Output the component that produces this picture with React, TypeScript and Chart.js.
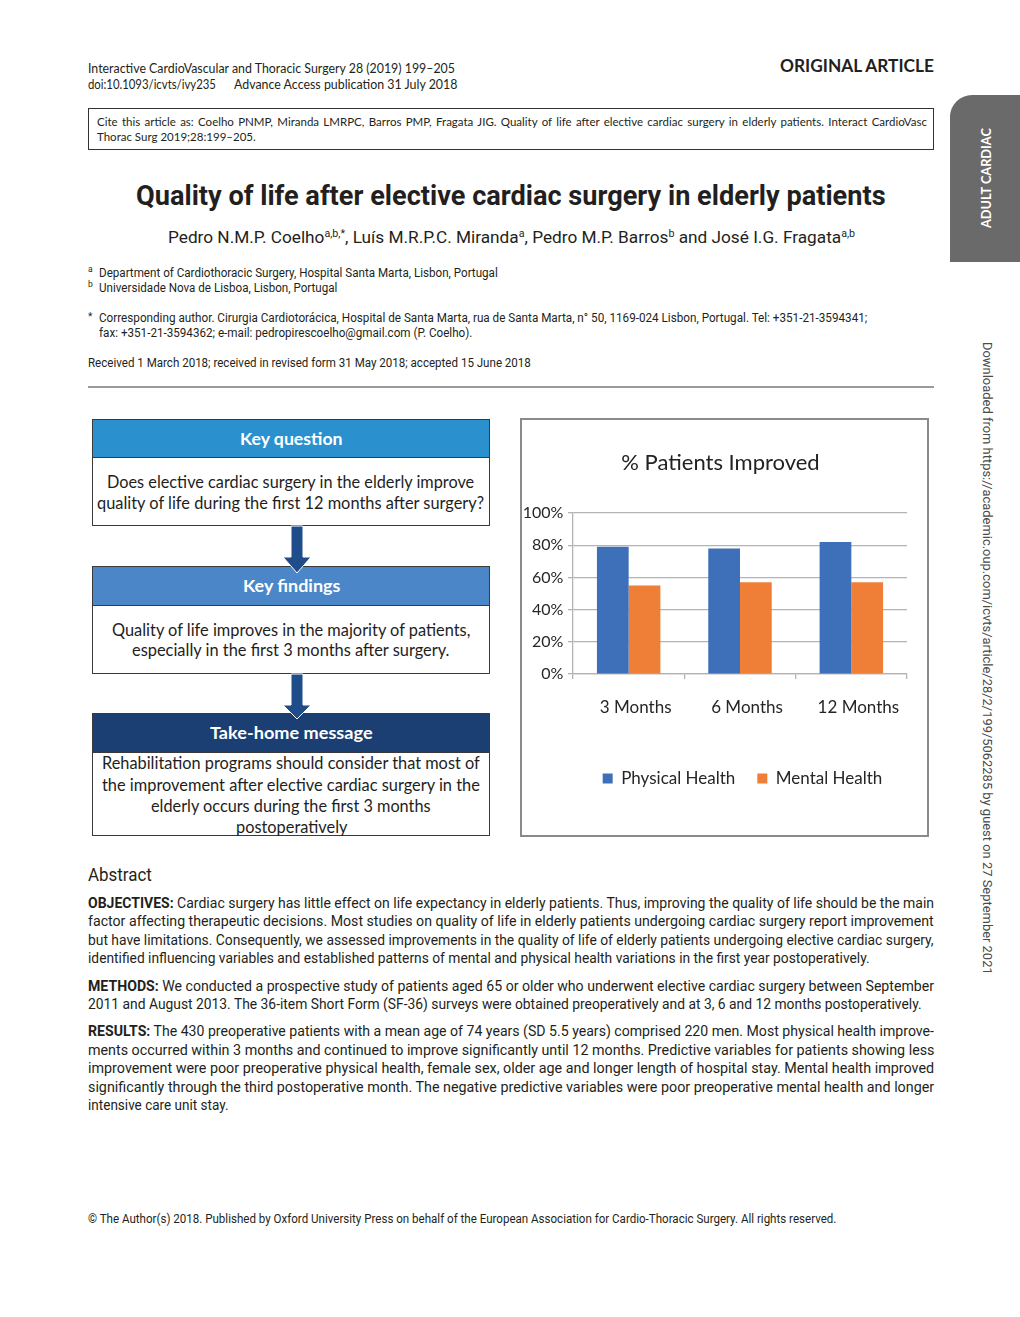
import React, { useEffect, useLayoutEffect, useRef } from 'react';
import { Chart, registerables } from 'chart.js';
Chart.register(...registerables);

// ---------- data ----------
const categories = ['3 Months', '6 Months', '12 Months'];
const seriesNames = ['Physical Health', 'Mental Health'];
const physicalHealth = [79, 78, 82];
const mentalHealth = [55, 57, 57];
const yTicks = [0, 20, 40, 60, 80, 100];
const chartTitle = '% Patients Improved';

const BODY = 'Roboto, "Liberation Sans", sans-serif';
const HDR = 'Lato, "Open Sans", sans-serif';
const CH = 'Lato, "Open Sans", sans-serif';
const INK = '#231f20';

type TP = {
  x: number; y: number; w?: number; mode?: 'fit' | 'j' | 'c';
  s: number; f?: string; b?: boolean; c?: string; children: any; st?: any;
};

function T({ x, y, w, mode, s, f, b, c, children, st }: TP) {
  const inner = useRef<HTMLSpanElement>(null);
  useLayoutEffect(() => {
    const i = inner.current;
    if (!i || !w) return;
    const nat = i.offsetWidth;
    if (mode === 'j' && nat <= w) {
      i.style.display = 'block';
      i.style.width = w + 'px';
      i.style.textAlign = 'justify';
      (i.style as any).textAlignLast = 'justify';
      i.style.whiteSpace = 'normal';
    } else if (mode === 'fit' || mode === 'j' || nat > w) {
      i.style.transform = `scaleX(${w / nat})`;
      i.style.transformOrigin = '0 0';
    }
  }, []);
  const style: any = {
    position: 'absolute',
    left: x,
    top: y - s * 0.56,
    fontSize: s,
    lineHeight: `${s * 1.2}px`,
    fontFamily: f || BODY,
    fontWeight: b ? 700 : 400,
    color: c || INK,
    whiteSpace: 'nowrap',
    ...(st || {}),
  };
  return (
    <div style={style}>
      <span ref={inner} style={{ display: 'inline-block' }}>{children}</span>
    </div>
  );
}

const Sup = ({ children }: any) => (
  <span style={{ fontSize: '0.62em', verticalAlign: '0.55em', lineHeight: 0 }}>{children}</span>
);

// nudges the title and legend boxes sideways to match the original placement
const shiftPlugin = {
  id: 'shiftBoxes',
  afterLayout(chart: any) {
    if (chart.legend) { chart.legend.left += 27; chart.legend.right += 27; }
    if (chart.titleBlock) { chart.titleBlock.left += 5; chart.titleBlock.right += 5; }
  },
};

function BarChart() {
  const ref = useRef<HTMLCanvasElement>(null);
  useEffect(() => {
    const GRID = '#b4b4b4';
    const TXT = '#262626';
    const chart = new Chart(ref.current!, {
      type: 'bar',
      data: {
        labels: categories,
        datasets: [
          { label: seriesNames[0], data: physicalHealth, backgroundColor: '#3d70b8', borderWidth: 0, categoryPercentage: 0.57, barPercentage: 1 },
          { label: seriesNames[1], data: mentalHealth, backgroundColor: '#ef7f37', borderWidth: 0, categoryPercentage: 0.57, barPercentage: 1 },
        ],
      },
      plugins: [shiftPlugin],
      options: {
        responsive: false,
        animation: false,
        devicePixelRatio: 1,
        layout: { padding: { top: 0, left: 2, right: 20, bottom: 38 } },
        plugins: {
          title: {
            display: true, text: chartTitle, color: '#222',
            font: { family: CH, size: 22, weight: 'normal' },
            padding: { top: 30, bottom: 36.6 },
          },
          legend: {
            position: 'bottom',
            labels: { boxWidth: 10, boxHeight: 10, padding: 22, color: TXT, font: { family: CH, size: 17 } },
          },
          tooltip: { enabled: false },
        },
        scales: {
          x: {
            grid: { display: true, drawOnChartArea: false, drawTicks: true, tickLength: 5, color: GRID, lineWidth: 1.3, offset: true },
            border: { display: true, color: GRID, width: 1.3 },
            ticks: { color: TXT, font: { family: CH, size: 17 }, padding: 18, labelOffset: 7 },
            afterFit: (s: any) => { s.height += 12.5; },
          },
          y: {
            min: 0, max: 100,
            afterBuildTicks: (s: any) => { s.ticks = yTicks.map((v) => ({ value: v })); },
            ticks: { color: TXT, font: { family: CH, size: 16 }, padding: 4.7, callback: (v: any) => v + '%' },
            grid: { color: GRID, lineWidth: 1.3, tickLength: 5 },
            border: { display: true, color: GRID, width: 1.3 },
            afterFit: (s: any) => { s.width = 49; },
          },
        },
      } as any,
    });
    return () => chart.destroy();
  }, []);
  return <canvas ref={ref} width={405} height={415} style={{ display: 'block', width: 405, height: 415 }} />;
}

function Arrow({ top, headTop, tip }: { top: number; headTop: number; tip: number }) {
  return (
    <svg style={{ position: 'absolute', left: 0, top: 0, overflow: 'visible' }} width={1} height={1}>
      <polygon
        points={`291,${top} 303,${top} 303,${headTop} 311,${headTop} 297,${tip} 283,${headTop} 291,${headTop}`}
        fill="#1f4d8a" stroke="#ffffff" strokeWidth={1}
      />
    </svg>
  );
}

function Box({ top, hh, bh, color, title, tw, lines }: any) {
  const L = 92, W = 398;
  return (
    <>
      <div style={{ position: 'absolute', left: L, top, width: W, height: hh + bh, boxSizing: 'border-box', border: '1.5px solid #3a3a3a', background: '#fff' }} />
      <div style={{ position: 'absolute', left: L, top, width: W, height: hh, boxSizing: 'border-box', border: '1.5px solid #3a3a3a', background: color }} />
      <T x={291 - tw / 2} y={top + hh / 2} w={tw} mode="fit" s={17} f={CH} b c="#ffffff">{title}</T>
      {lines.map((ln: any, i: number) => (
        <T key={i} x={ln[1]} y={ln[3]} w={ln[2]} mode="fit" s={16.5} f={CH} c="#1e1e1e">{ln[0]}</T>
      ))}
    </>
  );
}

export default function App() {
  const lineY = [903, 921.5, 940, 958.5, 986, 1004.5, 1031.5, 1050, 1068.5, 1087, 1105.5];
  return (
    <div style={{ position: 'absolute', left: 0, top: 0, width: 1020, height: 1317, background: '#fff', overflow: 'hidden' }}>
      {/* running header */}
      <T x={88} y={68} w={367} mode="fit" s={12.5} f={HDR}>Interactive CardioVascular and Thoracic Surgery 28 (2019) 199–205</T>
      <T x={88} y={84} w={128} mode="fit" s={12.5} f={HDR}>doi:10.1093/icvts/ivy235</T>
      <T x={234} y={84} w={223} mode="fit" s={12.5} f={HDR}>Advance Access publication 31 July 2018</T>
      <T x={780} y={66} w={154} mode="fit" s={16.5} f={HDR} b>ORIGINAL ARTICLE</T>

      {/* cite box */}
      <div style={{ position: 'absolute', left: 88, top: 108, width: 846, height: 42, boxSizing: 'border-box', border: '1px solid #333' }} />
      <T x={97} y={121} w={830} mode="j" s={11.5} f={HDR}>Cite this article as: Coelho PNMP, Miranda LMRPC, Barros PMP, Fragata JIG. Quality of life after elective cardiac surgery in elderly patients. Interact CardioVasc</T>
      <T x={97} y={136} s={11.5} f={HDR}>Thorac Surg 2019;28:199–205.</T>

      {/* side tab */}
      <div style={{ position: 'absolute', left: 950, top: 95, width: 70, height: 167, background: '#6a6a6a', borderTopLeftRadius: 22 }} />
      <div style={{ position: 'absolute', left: 979, top: 228, width: 0, height: 0, transform: 'rotate(-90deg)', transformOrigin: '0 0' }}>
        <T x={0} y={7} w={100} mode="fit" s={12.5} f={HDR} b c="#ffffff">ADULT CARDIAC</T>
      </div>
      <div style={{ position: 'absolute', left: 996, top: 342, width: 0, height: 0, transform: 'rotate(90deg)', transformOrigin: '0 0' }}>
        <T x={0} y={8} w={633} mode="fit" s={13.5} c="#4a4a4a">Downloaded from https://academic.oup.com/icvts/article/28/2/199/5062285 by guest on 27 September 2021</T>
      </div>

      {/* title & authors */}
      <T x={136} y={195} w={750} mode="fit" s={27} b>Quality of life after elective cardiac surgery in elderly patients</T>
      <T x={168} y={237} w={687} mode="fit" s={17}>
        Pedro N.M.P. Coelho<Sup>a,b,*</Sup>, Luís M.R.P.C. Miranda<Sup>a</Sup>, Pedro M.P. Barros<Sup>b</Sup> and José I.G. Fragata<Sup>a,b</Sup>
      </T>
      <T x={88} y={269} s={8.5}>a</T>
      <T x={99} y={272} w={399} mode="fit" s={12.5}>Department of Cardiothoracic Surgery, Hospital Santa Marta, Lisbon, Portugal</T>
      <T x={88} y={284} s={8.5}>b</T>
      <T x={99} y={287} w={238} mode="fit" s={12.5}>Universidade Nova de Lisboa, Lisbon, Portugal</T>
      <T x={88} y={317} s={10}>*</T>
      <T x={99} y={317} w={768} mode="fit" s={12.5}>Corresponding author. Cirurgia Cardiotorácica, Hospital de  Santa Marta, rua de Santa Marta, n° 50, 1169-024 Lisbon, Portugal. Tel: +351-21-3594341;</T>
      <T x={99} y={332} w={373} mode="fit" s={12.5}>fax: +351-21-3594362; e-mail: pedropirescoelho@gmail.com (P. Coelho).</T>
      <T x={88} y={362} w={443} mode="fit" s={12.5}>Received 1 March 2018; received in revised form 31 May 2018; accepted 15 June 2018</T>
      <div style={{ position: 'absolute', left: 88, top: 386, width: 846, height: 1.5, background: '#9a9a9a' }} />

      {/* graphical abstract: flow boxes */}
      <Box top={419} hh={39} bh={68} color="#2a91ce" title="Key question" tw={103}
        lines={[
          ['Does elective cardiac surgery in the elderly improve', 107, 367, 482.5],
          ['quality of life during the first 12 months after surgery?', 97, 387, 503.5],
        ]} />
      <Box top={566} hh={40} bh={68} color="#4a86c8" title="Key findings" tw={97}
        lines={[
          ['Quality of life improves in the majority of patients,', 112, 358, 630],
          ['especially in the first 3 months after surgery.', 132, 317, 650.5],
        ]} />
      <Box top={713} hh={40} bh={83} color="#1c3f73" title="Take-home message" tw={163}
        lines={[
          ['Rehabilitation programs should consider that most of', 102, 378, 763.5],
          ['the improvement after elective cardiac surgery in the', 102, 378, 785],
          ['elderly occurs during the first 3 months', 151, 280, 806.5],
          ['postoperatively', 236, 111, 827],
        ]} />
      <Arrow top={526} headTop={557} tip={573} />
      <Arrow top={674} headTop={705} tip={719} />

      {/* chart panel */}
      <div style={{ position: 'absolute', left: 520, top: 418, width: 409, height: 419, boxSizing: 'border-box', border: '2px solid #8a8a8a', background: '#fff' }}>
        <BarChart />
      </div>

      {/* abstract */}
      <T x={88} y={874} w={64} mode="fit" s={18}>Abstract</T>
      <T x={88} y={lineY[0]} w={846} mode="j" s={14.5}><b>OBJECTIVES:</b> Cardiac surgery has little effect on life expectancy in elderly patients. Thus, improving the quality of life should be the main</T>
      <T x={88} y={lineY[1]} w={846} mode="j" s={14.5}>factor affecting therapeutic decisions. Most studies on quality of life in elderly patients undergoing cardiac surgery report improvement</T>
      <T x={88} y={lineY[2]} w={846} mode="j" s={14.5}>but have limitations. Consequently, we assessed improvements in the quality of life of elderly patients undergoing elective cardiac surgery,</T>
      <T x={88} y={lineY[3]} w={782} mode="fit" s={14.5}>identified influencing variables and established patterns of mental and physical health variations in the first year postoperatively.</T>
      <T x={88} y={lineY[4]} w={846} mode="j" s={14.5}><b>METHODS:</b> We conducted a prospective study of patients aged 65 or older who underwent elective cardiac surgery between September</T>
      <T x={88} y={lineY[5]} w={834} mode="fit" s={14.5}>2011 and August 2013. The 36-item Short Form (SF-36) surveys were obtained preoperatively and at 3, 6 and 12 months postoperatively.</T>
      <T x={88} y={lineY[6]} w={846} mode="j" s={14.5}><b>RESULTS:</b> The 430 preoperative patients with a mean age of 74 years (SD 5.5 years) comprised 220 men. Most physical health improve-</T>
      <T x={88} y={lineY[7]} w={846} mode="j" s={14.5}>ments occurred within 3 months and continued to improve significantly until 12 months. Predictive variables for patients showing less</T>
      <T x={88} y={lineY[8]} w={846} mode="j" s={14.5}>improvement were poor preoperative physical health, female sex, older age and longer length of hospital stay. Mental health improved</T>
      <T x={88} y={lineY[9]} w={846} mode="j" s={14.5}>significantly through the third postoperative month. The negative predictive variables were poor preoperative mental health and longer</T>
      <T x={88} y={lineY[10]} w={141} mode="fit" s={14.5}>intensive care unit stay.</T>

      {/* footer */}
      <T x={88} y={1218} w={748} mode="fit" s={12.5}>© The Author(s) 2018. Published by Oxford University Press on behalf of the European Association for Cardio-Thoracic Surgery. All rights reserved.</T>
    </div>
  );
}
